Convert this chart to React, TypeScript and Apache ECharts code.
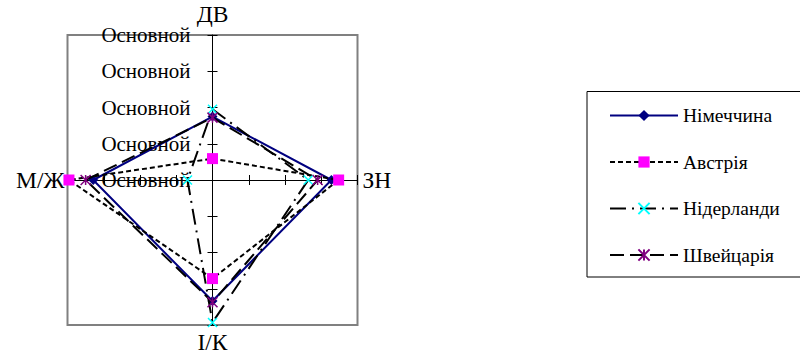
import React, { useEffect, useRef } from 'react';
import * as echarts from 'echarts';

const categories = ['ДВ', 'ЗН', 'І/К', 'М/Ж'];
const categoryAngles = [0, 90, 180, 270];
const radialMax = 4;
const tickLabel = 'Основной';
const seriesNames = ['Німеччина', 'Австрія', 'Нідерланди', 'Швейцарія'];
const germany = [1.75, 3.28, 3.34, 3.29];
const austria = [0.59, 3.48, 2.72, 3.96];
const netherlands = [1.95, 2.64, 3.93, 0.69];
const switzerland = [1.72, 2.9, 3.37, 3.5];

const FONT = 'Liberation Serif';
const CX = 212.5;
const CY = 180;
const R = 145;

// radar indicators run counter-clockwise from the top
const ccwOrder = [0, 3, 2, 1];
const nameGaps = [9, 5, 5, 3]; // ДВ, ЗН, І/К, М/Ж

function buildSeries(
  name: string,
  values: number[],
  lineStyle: any,
  symbol: string,
  symbolSize: number,
  itemStyle: any,
  z: number
) {
  const data: any[] = values.map((v, i) => [v, categoryAngles[i]]);
  data.push({ value: [values[0], 360], symbol: 'none' });
  return {
    type: 'line',
    name,
    coordinateSystem: 'polar',
    polarIndex: 0,
    data,
    symbol,
    symbolSize,
    lineStyle,
    itemStyle,
    z,
    emphasis: { disabled: true },
  };
}

export default function App() {
  const ref = useRef<HTMLDivElement>(null);
  useEffect(() => {
    document.body.style.margin = '0';
    if (!ref.current) return;
    const chart = echarts.init(ref.current, undefined, { renderer: 'svg' });
    const labelStyle = { color: '#000', fontSize: 21, fontFamily: FONT };
    const nameStyle = { color: '#000', fontSize: 23.5, fontFamily: FONT };
    const option: any = {
      animation: false,
      backgroundColor: '#fff',
      textStyle: { fontFamily: FONT },
      graphic: [
        {
          type: 'rect',
          silent: true,
          z: -1,
          shape: { x: CX - R, y: CY - R, width: 2 * R, height: 2 * R },
          style: { fill: 'none', stroke: '#808080', lineWidth: 2 },
        },
      ],
      radar: [
        {
          center: [CX, CY],
          radius: R,
          startAngle: 90,
          splitNumber: 4,
          shape: 'polygon',
          indicator: ccwOrder.map((i, k) => {
            const ind: any = {
              name: categories[i],
              min: 0,
              max: radialMax,
              nameGap: nameGaps[i],
              nameTextStyle: { ...nameStyle },
            };
            if (k === 0) ind.axisLabel = { show: true };
            return ind;
          }),
          axisName: {
            ...nameStyle,
            formatter: '{n|{value}}',
            rich: { n: { ...nameStyle } },
          },
          nameGap: 6,
          axisLine: { show: true, lineStyle: { color: '#000', width: 1 } },
          axisTick: { show: true, length: 5, lineStyle: { color: '#000', width: 1 } },
          axisLabel: {
            show: false,
            formatter: () => tickLabel,
            ...labelStyle,
            margin: 22,
            padding: [5, 0, 0, 0],
          },
          splitLine: { show: false },
          splitArea: { show: false },
        },
        {
          center: [CX, CY],
          radius: R,
          startAngle: 90,
          splitNumber: 4,
          shape: 'polygon',
          indicator: ccwOrder.map(() => ({ name: '', min: 0, max: radialMax })),
          axisName: { show: false },
          axisLine: { show: false },
          axisTick: { show: true, length: -5, lineStyle: { color: '#000', width: 1 } },
          axisLabel: { show: false },
          splitLine: { show: false },
          splitArea: { show: false },
        },
      ],
      polar: { center: [CX, CY], radius: R },
      angleAxis: {
        type: 'value',
        min: 0,
        max: 360,
        startAngle: 90,
        clockwise: true,
        show: false,
      },
      radiusAxis: { type: 'value', min: 0, max: radialMax, show: false },
      legend: {
        orient: 'vertical',
        left: 587,
        top: 91.5,
        padding: [14, 50, 12, 22],
        itemWidth: 68,
        itemHeight: 14,
        itemGap: 26.5,
        borderColor: '#000',
        borderWidth: 1,
        formatter: '{t|{name}}',
        textStyle: {
          color: '#000',
          fontSize: 19.5,
          fontFamily: FONT,
          lineHeight: 14,
          rich: { t: { color: '#000', fontSize: 19.5, fontFamily: FONT, lineHeight: 14 } },
        },
        data: seriesNames,
      },
      series: [
        buildSeries(
          seriesNames[0],
          germany,
          { color: '#000080', width: 2, type: 'solid' },
          'diamond',
          10,
          { color: '#000080' },
          3
        ),
        buildSeries(
          seriesNames[1],
          austria,
          { color: '#000', width: 2, type: [5, 3] },
          'rect',
          11,
          { color: '#FF00FF' },
          4
        ),
        buildSeries(
          seriesNames[2],
          netherlands,
          { color: '#000', width: 2, type: [16, 6, 2, 6] },
          'path://M0,0L10,10M10,0L0,10',
          9,
          { color: 'none', borderColor: '#00FFFF', borderWidth: 1.5 },
          5
        ),
        buildSeries(
          seriesNames[3],
          switzerland,
          { color: '#000', width: 2, type: [14, 6] },
          'path://M0,0L10,10M10,0L0,10M5,0L5,10',
          10,
          { color: 'none', borderColor: '#800080', borderWidth: 1.5 },
          6
        ),
      ],
    };
    chart.setOption(option);
    return () => chart.dispose();
  }, []);
  return <div ref={ref} style={{ width: 800, height: 356 }} />;
}
